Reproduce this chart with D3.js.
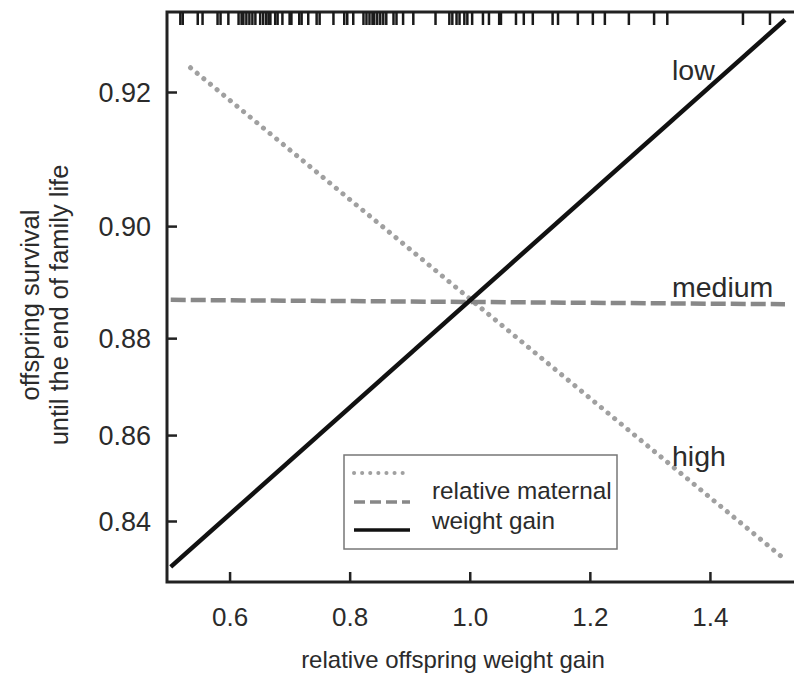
<!DOCTYPE html>
<html>
<head>
<meta charset="utf-8">
<script src="https://cdn.jsdelivr.net/npm/d3@7"></script>
<style>
  html, body { margin: 0; padding: 0; background: #fff; }
  svg { display: block; font-family: "Liberation Sans", Arial, sans-serif; }
</style>
</head>
<body>
<svg id="chart" width="794" height="680"></svg>
<script>
// ---- data ----
const xTicks = [0.6, 0.8, 1.0, 1.2, 1.4];
const yTicks = [0.84, 0.86, 0.88, 0.90, 0.92];
const lineX = [0.502, 1.525];            // x range of low / medium curves
const highX = [0.535, 1.522];            // x range of high curve
const lowValues = [0.8284, 0.9292];      // solid ("low")
const mediumValues = [0.8872, 0.8864];   // dashed ("medium")
const highValues = [0.9232, 0.8307];     // dotted ("high")
const seriesNames = ["low", "medium", "high"];
const legendLines = ["relative maternal", "weight gain"];
const rugValues = [0.518,0.522,0.547,0.555,0.580,0.585,0.598,0.615,0.620,0.623,0.628,0.633,0.638,0.643,
  0.651,0.656,0.661,0.665,0.668,0.676,0.680,0.688,0.700,0.703,0.716,0.720,0.731,0.745,0.750,0.773,
  0.791,0.796,0.806,0.823,0.828,0.833,0.838,0.841,0.846,0.851,0.856,0.861,0.873,0.878,0.889,0.906,
  0.943,0.966,0.971,0.978,0.983,0.991,0.996,1.004,1.022,1.032,1.049,1.052,1.077,1.090,1.105,1.138,
  1.147,1.180,1.205,1.225,1.265,1.307,1.329,1.455,1.500];

// ---- layout ----
const svg = d3.select("#chart");
const pLeft = 167, pRight = 800, pTop = 12, pBottom = 582;
const textColor = "#2b2b2b", axisColor = "#222";

const logit = p => Math.log(p / (1 - p));
const x = d3.scaleLinear().domain([0.4958, 1.55]).range([pLeft, pRight]);
const yL = d3.scaleLinear().domain([logit(0.84), logit(0.92)]).range([521, 92]);
const y = p => yL(logit(p));

// box
svg.append("rect").attr("x", pLeft).attr("y", pTop).attr("width", pRight - pLeft).attr("height", pBottom - pTop)
  .attr("fill", "none").attr("stroke", axisColor).attr("stroke-width", 3);

// x axis
const gx = svg.append("g").attr("transform", `translate(0,${pBottom})`)
  .call(d3.axisBottom(x).tickValues(xTicks).tickFormat(d3.format(".1f")).tickSizeInner(-10).tickSizeOuter(0).tickPadding(20));
gx.select(".domain").remove();
gx.selectAll(".tick line").attr("stroke", axisColor).attr("stroke-width", 2.5);
gx.selectAll(".tick text").attr("fill", textColor).attr("font-size", 26).attr("dy", "0.35em").attr("y", 35)
  .attr("font-family", "Liberation Sans, Arial, sans-serif");

// y axis (logit scale)
const gy = svg.append("g").attr("transform", `translate(${pLeft},0)`)
  .call(d3.axisLeft(yL).tickValues(yTicks.map(logit)).tickFormat(l => d3.format(".2f")(1 / (1 + Math.exp(-l))))
    .tickSizeInner(-10).tickSizeOuter(0).tickPadding(16));
gy.select(".domain").remove();
gy.selectAll(".tick line").attr("stroke", axisColor).attr("stroke-width", 2.5);
gy.selectAll(".tick text").attr("fill", textColor).attr("font-size", 27).attr("dy", "0.35em")
  .attr("font-family", "Liberation Sans, Arial, sans-serif");

// rug on top
svg.append("g").selectAll("line").data(rugValues).join("line")
  .attr("x1", d => x(d)).attr("x2", d => x(d)).attr("y1", pTop).attr("y2", pTop + 13)
  .attr("stroke", "#1a1a1a").attr("stroke-width", 2.5);

// lines
const line = d3.line().x(d => x(d[0])).y(d => y(d[1]));
const mk = (xs, vals) => xs.map((xv, i) => [xv, vals[i]]);
const styles = {
  high:   { color: "#a0a0a0", width: 5, dash: "0.1,8.5", cap: "round" },
  medium: { color: "#888", width: 4.5, dash: "15,5", cap: "butt" },
  low:    { color: "#111", width: 4.5, dash: null, cap: "butt" }
};
const seriesData = {
  low: mk(lineX, lowValues), medium: mk(lineX, mediumValues), high: mk(highX, highValues)
};
["high", "medium", "low"].forEach(k => {
  const s = styles[k];
  svg.append("path").attr("d", line(seriesData[k]))
    .attr("fill", "none").attr("stroke", s.color).attr("stroke-width", s.width)
    .attr("stroke-dasharray", s.dash).attr("stroke-linecap", s.cap);
});

// series labels
const labelPos = { low: 70, medium: 287, high: 456 };
seriesNames.forEach(k => {
  svg.append("text").attr("x", 672).attr("y", labelPos[k]).attr("dy", "0.35em")
    .attr("font-size", 28.5).attr("fill", textColor).text(k);
});

// legend
svg.append("rect").attr("x", 344).attr("y", 455).attr("width", 273).attr("height", 94)
  .attr("fill", "#fff").attr("stroke", "#777").attr("stroke-width", 1.5);
const legY = { high: 473, medium: 502, low: 530 };
["high", "medium", "low"].forEach(k => {
  const s = styles[k];
  svg.append("line").attr("x1", 354).attr("x2", 410).attr("y1", legY[k]).attr("y2", legY[k])
    .attr("stroke", s.color).attr("stroke-width", s.width - 1)
    .attr("stroke-dasharray", k === "high" ? "0.1,8" : (k === "medium" ? "11,5" : null))
    .attr("stroke-linecap", s.cap);
});
legendLines.forEach((t, i) => {
  svg.append("text").attr("x", 432).attr("y", 490 + i * 30).attr("dy", "0.35em")
    .attr("font-size", 24.3).attr("fill", textColor).text(t);
});

// axis titles
svg.append("text").attr("x", 453).attr("y", 660).attr("dy", "0.35em").attr("text-anchor", "middle")
  .attr("font-size", 24).attr("fill", textColor).text("relative offspring weight gain");
const yTitle = ["offspring survival", "until the end of family life"];
yTitle.forEach((t, i) => {
  svg.append("text").attr("transform", `translate(${30 + i * 29},305) rotate(-90)`)
    .attr("dy", "0.35em").attr("text-anchor", "middle")
    .attr("font-size", 25.5).attr("fill", textColor).text(t);
});
</script>
</body>
</html>
